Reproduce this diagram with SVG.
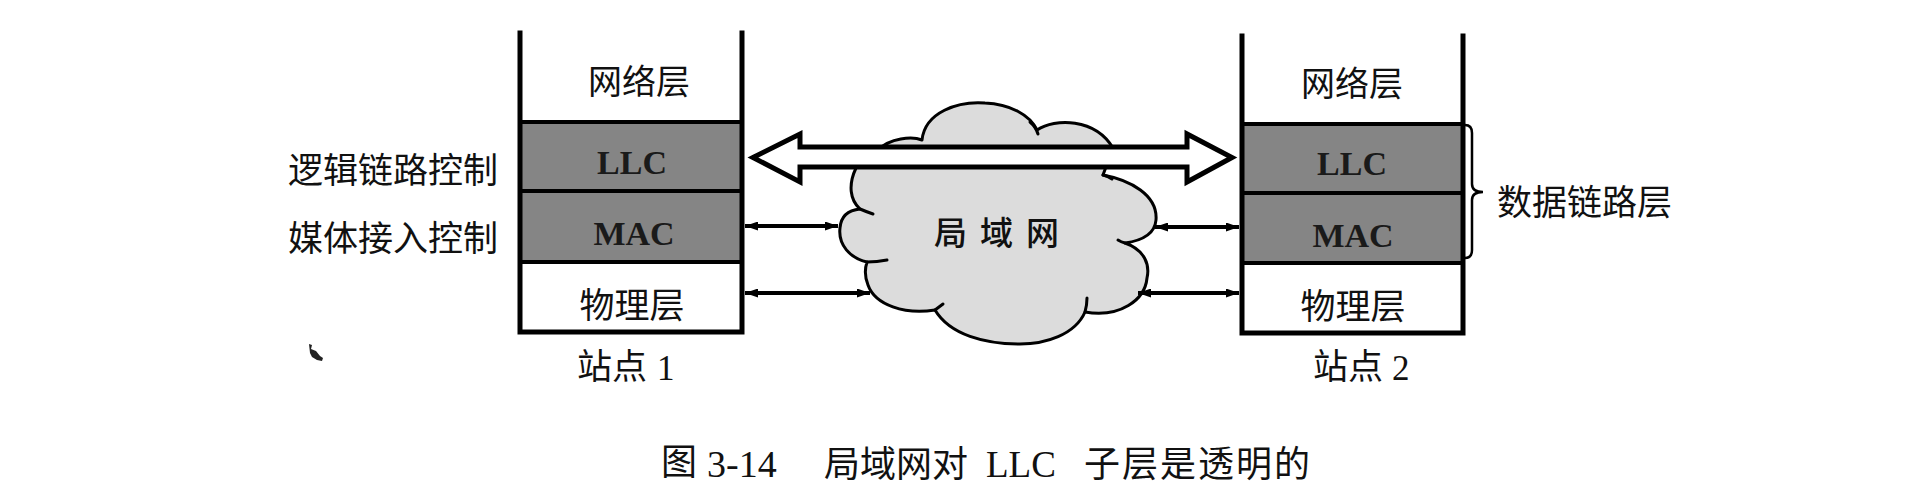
<svg xmlns="http://www.w3.org/2000/svg" width="1921" height="503" viewBox="0 0 1921 503">
<style>
.cjk{font-family:"Noto Sans CJK SC","Noto Sans",sans-serif;fill:#111}
.lat{font-family:"Liberation Serif","Noto Sans CJK SC",serif;fill:#111}
.latb{font-family:"Liberation Serif",serif;font-weight:bold;fill:#1a1a1a}
.frame{fill:none;stroke:#000;stroke-width:5;stroke-linecap:square}
.div{stroke:#000;stroke-width:4}
.shade{fill:#858585}
.cloud{fill:#dcdcdc;stroke:#000;stroke-width:3;stroke-linejoin:round}
.tick{fill:none;stroke:#000;stroke-width:3;stroke-linecap:round}
.conn{stroke:#000;stroke-width:4;fill:none}
.big{fill:#fff;stroke:#000;stroke-width:5;stroke-linejoin:miter}
</style>
<defs>
<marker id="ah" viewBox="0 0 13 9" refX="13" refY="4.5" markerWidth="13" markerHeight="9" markerUnits="userSpaceOnUse" orient="auto-start-reverse">
<path d="M0,0 L13,4.5 L0,9 Z" fill="#000"/>
</marker>
</defs>
<rect width="1921" height="503" fill="#fff"/>

<g id="station1">
<rect class="shade" x="520" y="122" width="222" height="140"/>
<line class="div" x1="520" y1="122" x2="742" y2="122"/>
<line class="div" x1="520" y1="191" x2="742" y2="191"/>
<line class="div" x1="520" y1="262" x2="742" y2="262"/>
<path class="frame" d="M520,33 L520,332 L742,332 L742,33"/>
<text class="cjk" x="639" y="94" font-size="34" text-anchor="middle">网络层</text>
<text class="latb" x="632" y="174" font-size="34" text-anchor="middle">LLC</text>
<text class="latb" x="634" y="245" font-size="34" text-anchor="middle">MAC</text>
<text class="cjk" x="632" y="318" font-size="35" text-anchor="middle">物理层</text>
<text class="cjk" x="577" y="379" font-size="35">站点<tspan class="lat" x="657" y="380">1</tspan></text>
</g>

<g id="station2">
<rect class="shade" x="1242" y="124" width="221" height="139"/>
<line class="div" x1="1242" y1="124" x2="1463" y2="124"/>
<line class="div" x1="1242" y1="193" x2="1463" y2="193"/>
<line class="div" x1="1242" y1="263" x2="1463" y2="263"/>
<path class="frame" d="M1242,36 L1242,333 L1463,333 L1463,36"/>
<text class="cjk" x="1352" y="96" font-size="34" text-anchor="middle">网络层</text>
<text class="latb" x="1352" y="175" font-size="34" text-anchor="middle">LLC</text>
<text class="latb" x="1353" y="247" font-size="34" text-anchor="middle">MAC</text>
<text class="cjk" x="1353" y="319" font-size="35" text-anchor="middle">物理层</text>
<text class="cjk" x="1313" y="379" font-size="35">站点<tspan class="lat" x="1392" y="380">2</tspan></text>
</g>

<g id="lan-cloud">
<path class="cloud" d="M878,150 C890,138 912,136 922,140 C925,112 958,101 985,103 C1010,104 1030,115 1037,130 C1055,118 1095,118 1113,148 L1103,175 C1130,180 1158,195 1156,220 C1155,232 1146,240 1125,243 C1145,250 1150,265 1147,278 C1145,300 1120,318 1085,312 C1075,335 1045,344 1020,344 C985,344 950,335 935,310 C905,315 875,305 868,285 C864,275 865,268 867,262 C850,258 838,245 840,228 C841,215 850,210 860,209 C850,200 848,185 856,168 Z"/>
<path class="tick" d="M1030,122 Q1036,127 1038,134"/>
<path class="tick" d="M1103,175 Q1108,176 1112,179"/>
<path class="tick" d="M1125,243 Q1121,242 1118,240"/>
<path class="tick" d="M1085,312 Q1087,305 1087,298"/>
<path class="tick" d="M935,310 Q939,307 943,304"/>
<path class="tick" d="M867,262 Q877,262 887,260"/>
<path class="tick" d="M860,209 Q867,212 873,214"/>
<text class="cjk" x="934" y="245" font-size="33" font-weight="500" letter-spacing="13">局域网</text>
</g>

<g id="connectors">
<polygon class="big" points="753,157.5 800,134 800,147 1187,147 1187,134 1232,157.5 1187,182 1187,167 800,167 800,182"/>
<line class="conn" x1="745" y1="226" x2="838" y2="226" marker-start="url(#ah)" marker-end="url(#ah)"/>
<line class="conn" x1="745" y1="293" x2="870" y2="293" marker-start="url(#ah)" marker-end="url(#ah)"/>
<line class="conn" x1="1155" y1="227" x2="1239" y2="227" marker-start="url(#ah)" marker-end="url(#ah)"/>
<line class="conn" x1="1138" y1="293" x2="1239" y2="293" marker-start="url(#ah)" marker-end="url(#ah)"/>
</g>

<g id="side-labels">
<text class="cjk" x="288" y="183" font-size="35">逻辑链路控制</text>
<text class="cjk" x="288" y="251" font-size="35">媒体接入控制</text>
<path d="M1465,125 Q1472,125 1472,133 L1472,184 Q1472,192 1483,192 Q1472,192 1472,200 L1472,250 Q1472,258 1465,258" fill="none" stroke="#000" stroke-width="2.5"/>
<text class="cjk" x="1497" y="215" font-size="35">数据链路层</text>
</g>

<g id="speck">
<path d="M309,344 L312,345 L311,349 L316,351 L320,356 L323,358 L322,361 L317,360 L312,357 L310,353 Z" fill="#222"/>
</g>

<g id="caption">
<text class="cjk" y="475" font-size="36"><tspan x="661">图</tspan><tspan class="lat" x="707" y="477" font-size="38">3-14</tspan><tspan x="824">局域网对</tspan><tspan class="lat" x="986" y="477" font-size="37">LLC</tspan><tspan x="1084" letter-spacing="2">子层是透明的</tspan></text>
</g>
</svg>
